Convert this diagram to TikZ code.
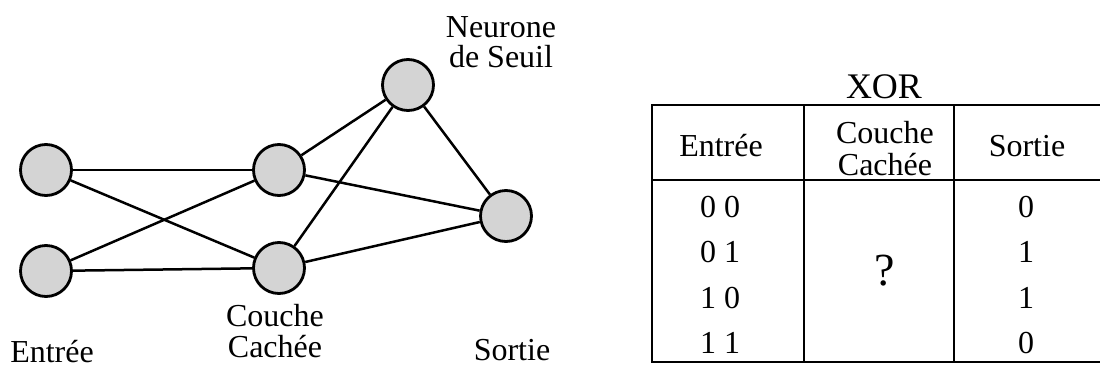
\documentclass[tikz,border=0pt]{standalone}
\usepackage{fontspec}
\setmainfont{Liberation Serif}
\definecolor{nodegray}{RGB}{212,212,212}
\begin{document}
\begin{tikzpicture}[x=1pt,y=-1pt,
  neuron/.style={circle, draw=black, line width=2.8pt, fill=nodegray, minimum size=51pt, inner sep=0pt},
  link/.style={line width=2.5pt},
  lbl/.style={font=\fontsize{32}{32}\selectfont, inner sep=0pt, anchor=base, align=center},
  title/.style={font=\fontsize{36}{36}\selectfont, inner sep=0pt, anchor=base},
  bigq/.style={font=\fontsize{46}{46}\selectfont, inner sep=0pt, anchor=base},
  gridline/.style={line width=2.4pt, line cap=rect}]
\useasboundingbox (0,0) rectangle (1100,367);
% network
\node[neuron] (i1) at (46,170) {};
\node[neuron] (i2) at (46,271) {};
\node[neuron] (h1) at (279,170) {};
\node[neuron] (h2) at (279,268) {};
\node[neuron] (t) at (408,85) {};
\node[neuron] (o) at (506,216) {};
\draw[link] (i1) -- (h1);
\draw[link] (i1) -- (h2);
\draw[link] (i2) -- (h1);
\draw[link] (i2) -- (h2);
\draw[link] (h1) -- (t);
\draw[link] (h1) -- (o);
\draw[link] (h2) -- (t);
\draw[link] (h2) -- (o);
\draw[link] (t) -- (o);
% labels (base anchor = baseline of the last line)
\node[lbl] (lin) at (52,362) {Entrée};
\node[lbl] (lhid) at (275,357) {Couche\\[-1pt]Cachée};
\node[lbl] (lout) at (512,360) {Sortie};
\node[lbl] (lthr) at (501,67) {Neurone\\[-2pt]de Seuil};
% table
\node[title] (xor) at (884,98) {XOR};
\coordinate (c1) at (652,105);
\coordinate (c2) at (804,105);
\coordinate (c3) at (954,105);
\coordinate (c4) at (1104,105);
\draw[gridline] (c1) -- (c4);
\draw[gridline] (652,180) -- (1104,180);
\draw[gridline] (652,362) -- (1104,362);
\draw[gridline] (c1) -- (652,362);
\draw[gridline] (c2) -- (804,362);
\draw[gridline] (c3) -- (954,362);
\node[lbl] (hin) at (721,156) {Entrée};
\node[lbl] (hhid) at (885,175) {Couche\\[0pt]Cachée};
\node[lbl] (hout) at (1027,156) {Sortie};
\node[lbl] (r1a) at (720,217) {0 0};
\node[lbl] (r2a) at (720,262) {0 1};
\node[lbl] (r3a) at (720,308) {1 0};
\node[lbl] (r4a) at (720,353) {1 1};
\node[lbl] (r1b) at (1026,217) {0};
\node[lbl] (r2b) at (1026,262) {1};
\node[lbl] (r3b) at (1026,308) {1};
\node[lbl] (r4b) at (1026,353) {0};
\node[bigq] (q) at (885,285) {?};
\end{tikzpicture}
\end{document}
